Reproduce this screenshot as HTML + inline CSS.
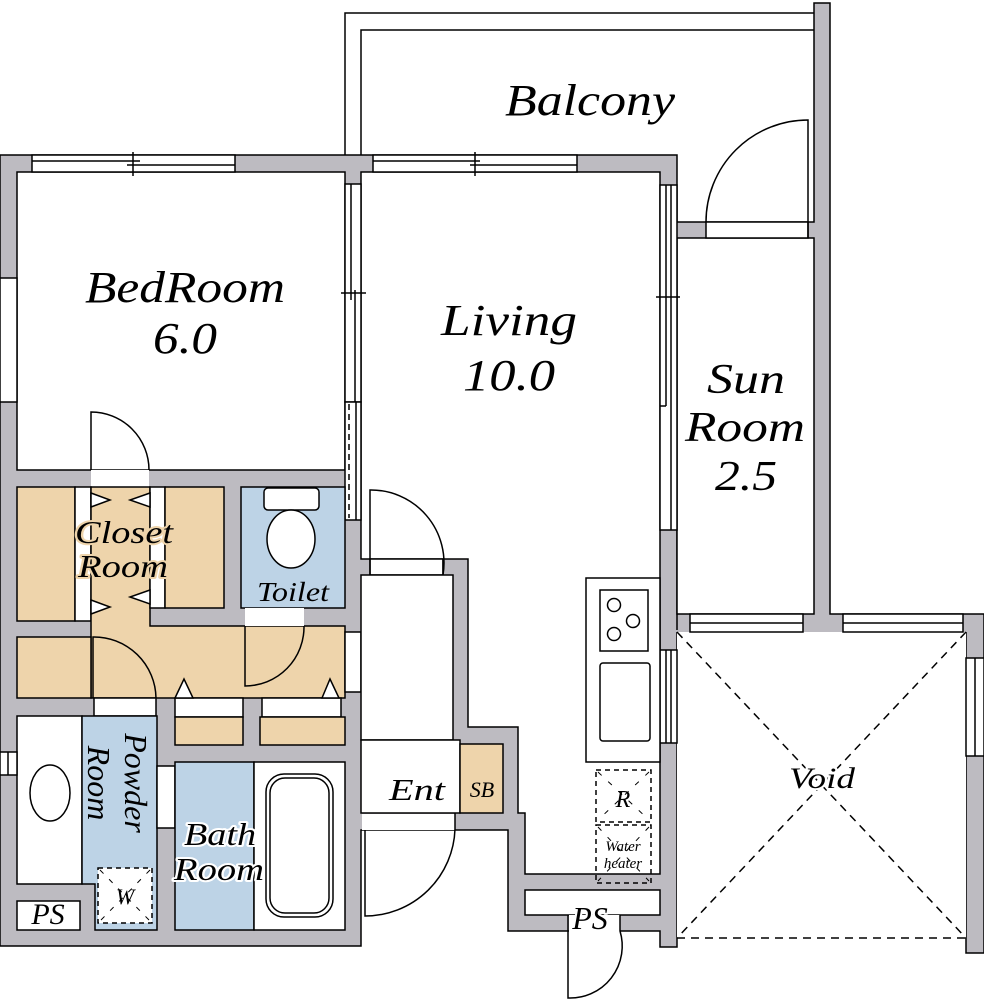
<!DOCTYPE html>
<html><head><meta charset="utf-8"><style>
html,body{margin:0;padding:0;background:#fff;}
svg{display:block;}
text{font-family:"Liberation Serif",serif;font-style:italic;fill:#000;}
.h{paint-order:stroke;stroke:#fff;stroke-width:4px;stroke-linejoin:round;}
.t{paint-order:stroke;stroke:#eed4ab;stroke-width:4px;stroke-linejoin:round;}
</style></head><body>
<svg width="984" height="1000" viewBox="0 0 984 1000" xmlns="http://www.w3.org/2000/svg">
<g stroke="#000" stroke-width="1.5" fill="none">
<!-- balcony -->
<path d="M345,155 V13 H814 M361,155 V30 H814" />
<!-- gray walls -->
<polygon points="0,155 677,155 677,947 660,947 660,931 508,931 508,830 361,830 361,946 0,946" fill="#bdbbc1"/>
<g fill="#bdbbc1" stroke="none">
<rect x="660" y="222" width="170" height="408"/>
<rect x="814" y="3" width="16" height="230"/>
<rect x="660" y="614" width="324" height="18"/>
<rect x="966" y="614" width="18" height="339"/>
</g>
<path d="M677,222 H814 V3 H830 V614 H984 V953 H966 V632 M677,630 V238"/>
<!-- rooms -->
<rect x="17" y="172" width="328" height="298" fill="#fff"/>
<polygon points="361,172 660,172 660,874 525,874 525,813 518,813 518,727 468,727 468,559 361,559" fill="#fff"/>
<rect x="677" y="238" width="137" height="376" fill="#fff"/>
<rect x="677" y="632" width="289" height="306" fill="#fff" stroke="none"/>
<!-- balcony door opening -->
<rect x="706" y="222" width="102" height="16" fill="#fff"/>
<path d="M808,238 V120 A102,102 0 0 0 706,222"/>
<!-- top windows -->
<rect x="32" y="155" width="203" height="17" fill="#fff"/>
<path d="M32,161 H140 M130,165 H235 M133,152 V176 M127,161 H139 M127,165 H139"/>
<rect x="373" y="155" width="204" height="17" fill="#fff"/>
<path d="M373,161 H480 M470,165 H577 M475,152 V176"/>
<!-- bedroom/living wall window -->
<rect x="345" y="184" width="16" height="218" fill="#fff"/>
<path d="M351,184 V300 M355,290 V402 M341,293 H366"/>
<rect x="345" y="402" width="16" height="118" fill="#fff"/>
<path d="M349,404 V518" stroke-dasharray="6,4"/>
<path d="M356,402 V520"/>
<!-- bedroom left window -->
<rect x="0" y="278" width="17" height="124" fill="#fff"/>
<!-- living right window -->
<rect x="660" y="185" width="17" height="345" fill="#fff"/>
<path d="M666,185 V406 M671,185 V530 M660,406 H666 M656,297 H680"/>
<rect x="660" y="650" width="17" height="93" fill="#fff"/>
<path d="M666,650 V743 M671,650 V743"/>
<!-- void windows -->
<rect x="690" y="614" width="113" height="18" fill="#fff"/>
<path d="M690,623 H803"/>
<rect x="843" y="614" width="120" height="18" fill="#fff"/>
<path d="M843,623 H963"/>
<rect x="966" y="658" width="18" height="98" fill="#fff"/>
<path d="M975,658 V756"/>
<!-- void dashed -->
<g stroke-dasharray="8,6">
<path d="M677,632 L966,938 M966,632 L677,938 M677,938 H966"/>
</g>
<!-- bedroom door -->
<rect x="91" y="470" width="58" height="17" fill="#fff" stroke="none"/>
<path d="M91,470 V412 A58,58 0 0 1 149,470"/>
<!-- closet -->
<rect x="17" y="487" width="58" height="134" fill="#eed4ab"/>
<rect x="75" y="487" width="16" height="134" fill="#fff"/>
<polygon points="91,487 150,487 150,626 345,626 345,698 91,698" fill="#eed4ab"/>
<rect x="150" y="487" width="15" height="121" fill="#fff"/>
<rect x="165" y="487" width="59" height="121" fill="#eed4ab"/>
<path d="M91,493 L110,500 L91,507 Z M91,600 L110,607 L91,614 Z M150,493 L130,500 L150,507 Z M150,590 L130,597 L150,604 Z" fill="#fff"/>
<rect x="17" y="637" width="74" height="61" fill="#eed4ab"/>
<!-- toilet -->
<rect x="241" y="487" width="104" height="121" fill="#bdd3e6"/>
<rect x="264" y="488" width="55" height="22" rx="4" fill="#fff"/>
<ellipse cx="291" cy="539" rx="24" ry="29" fill="#fff"/>
<rect x="245" y="608" width="59" height="18" fill="#fff" stroke="none"/>
<path d="M245,626 V686 A59,59 0 0 0 304,626"/>
<!-- powder door -->
<rect x="94" y="698" width="62" height="18" fill="#fff"/>
<path d="M93,698 V637 A62,62 0 0 1 156,698"/>
<!-- lower closets -->
<rect x="175" y="698" width="68" height="19" fill="#fff"/>
<rect x="175" y="717" width="68" height="28" fill="#eed4ab"/>
<rect x="262" y="698" width="79" height="19" fill="#fff"/>
<rect x="260" y="717" width="85" height="28" fill="#eed4ab"/>
<path d="M175,698 L184,679 L193,698 Z M322,698 L330,679 L339,698 Z" fill="#fff"/>
<rect x="345" y="632" width="16" height="60" fill="#fff"/>
<!-- washroom -->
<rect x="17" y="716" width="65" height="168" fill="#fff"/>
<ellipse cx="50" cy="793" rx="20" ry="28" fill="#fff"/>
<rect x="0" y="752" width="17" height="23" fill="#fff"/>
<path d="M8,752 V775"/>
<polygon points="82,716 157,716 157,930 95,930 95,884 82,884" fill="#bdd3e6"/>
<rect x="17" y="901" width="63" height="29" fill="#fff"/>
<rect x="98" y="868" width="54" height="55" fill="#fff" stroke-dasharray="5,4"/>
<path d="M100,870 L150,921 M150,870 L100,921" stroke-dasharray="5,8" stroke-width="1"/>
<!-- bath -->
<rect x="157" y="766" width="18" height="62" fill="#fff"/>
<rect x="175" y="762" width="79" height="168" fill="#bdd3e6"/>
<rect x="254" y="762" width="91" height="168" fill="#fff"/>
<rect x="266" y="774" width="67" height="143" rx="18" fill="#fff"/>
<rect x="270" y="778" width="59" height="135" rx="15" fill="#fff"/>
<!-- ent -->
<rect x="370" y="559" width="73" height="16" fill="#fff"/>
<path d="M370,575 V490 A73,73 0 0 1 443,575 V559"/>
<rect x="361" y="575" width="92" height="165" fill="#fff"/>
<rect x="361" y="740" width="99" height="73" fill="#fff"/>
<rect x="460" y="744" width="43" height="69" fill="#eed4ab"/>
<rect x="362" y="814" width="93" height="16" fill="#fff" stroke="none"/>
<path d="M365,830 V916 A90,90 0 0 0 455,829 V813"/>
<!-- kitchen -->
<rect x="586" y="578" width="74" height="184" fill="#fff"/>
<rect x="600" y="590" width="48" height="61" fill="#fff"/>
<circle cx="614" cy="605" r="6.5"/><circle cx="633" cy="621" r="6.5"/><circle cx="614" cy="634" r="6.5"/>
<rect x="600" y="663" width="50" height="78" rx="3" fill="#fff"/>
<g stroke-dasharray="5,4">
<rect x="596" y="770" width="55" height="52"/>
<rect x="596" y="825" width="55" height="58"/>
</g>
<path d="M598,772 L649,820 M649,772 L598,820 M598,827 L649,881 M649,827 L598,881" stroke-dasharray="5,9" stroke-width="1"/>
<!-- PS bottom -->
<rect x="525" y="890" width="135" height="25" fill="#fff"/>
<rect x="569" y="915" width="51" height="17" fill="#fff" stroke="none"/>
<path d="M568,915 V998 A52,52 0 0 0 620,931 V915"/>
</g>
<!-- labels -->
<text x="505" y="115" font-size="44" textLength="170" lengthAdjust="spacingAndGlyphs">Balcony</text>
<text x="85" y="302" font-size="44" textLength="200" lengthAdjust="spacingAndGlyphs">BedRoom</text>
<text x="153" y="353" font-size="44" textLength="64" lengthAdjust="spacingAndGlyphs">6.0</text>
<text x="441" y="335" font-size="44" textLength="136" lengthAdjust="spacingAndGlyphs">Living</text>
<text x="463" y="390" font-size="44" textLength="92" lengthAdjust="spacingAndGlyphs">10.0</text>
<text x="707" y="393" font-size="42" textLength="78" lengthAdjust="spacingAndGlyphs">Sun</text>
<text x="685" y="441" font-size="42" textLength="120" lengthAdjust="spacingAndGlyphs">Room</text>
<text x="715" y="490" font-size="42" textLength="62" lengthAdjust="spacingAndGlyphs">2.5</text>
<text class="t" x="75" y="543" font-size="32" textLength="98" lengthAdjust="spacingAndGlyphs">Closet</text>
<text class="t" x="78" y="577" font-size="32" textLength="90" lengthAdjust="spacingAndGlyphs">Room</text>
<text x="257" y="601" font-size="27" textLength="72" lengthAdjust="spacingAndGlyphs">Toilet</text>
<g transform="translate(120,783) rotate(90)">
<text x="0" y="-5" font-size="32" text-anchor="middle">Powder</text>
<text x="0" y="32" font-size="32" text-anchor="middle">Room</text>
</g>
<text class="h" x="184" y="845" font-size="32" textLength="72" lengthAdjust="spacingAndGlyphs">Bath</text>
<text class="h" x="174" y="880" font-size="32" textLength="90" lengthAdjust="spacingAndGlyphs">Room</text>
<text x="389" y="800" font-size="31" textLength="56" lengthAdjust="spacingAndGlyphs">Ent</text>
<text x="482" y="797" font-size="22" text-anchor="middle">SB</text>
<text class="h" x="789" y="788" font-size="30" textLength="66" lengthAdjust="spacingAndGlyphs">Void</text>
<text class="h" x="48" y="924" font-size="30" text-anchor="middle">PS</text>
<text x="125" y="904" font-size="22" text-anchor="middle">W</text>
<text x="623" y="807" font-size="24" text-anchor="middle">R</text>
<text x="623" y="851" font-size="15" text-anchor="middle">Water</text>
<text x="623" y="868" font-size="15" text-anchor="middle">heater</text>
<text class="h" x="590" y="929" font-size="32" text-anchor="middle">PS</text>
</svg>
</body></html>
